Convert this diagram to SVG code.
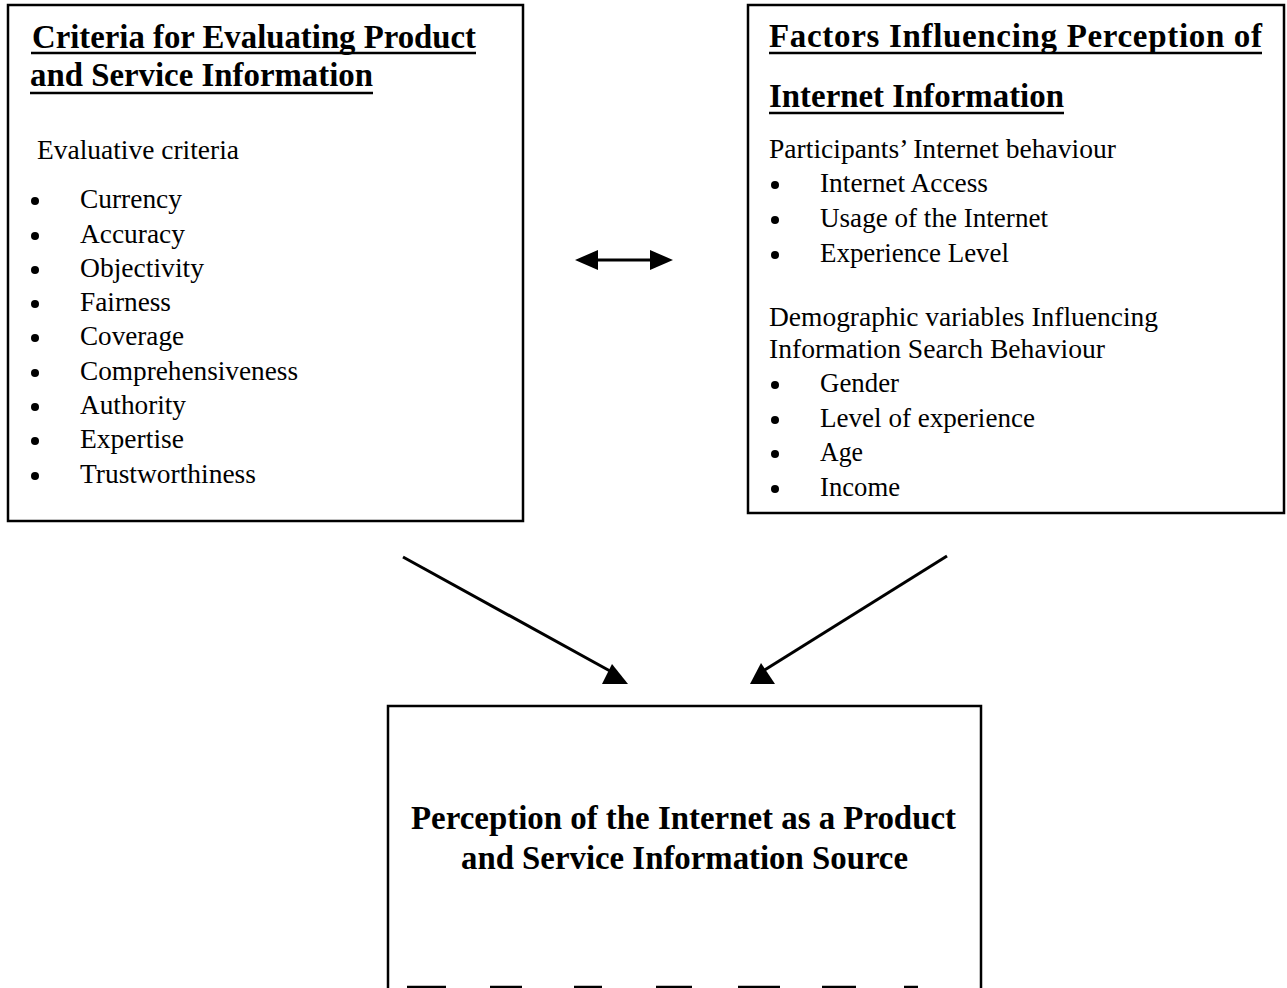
<svg xmlns="http://www.w3.org/2000/svg" width="1287" height="988" viewBox="0 0 1287 988">
<style>
.box{fill:none;stroke:#000;stroke-width:2.5}
.t{font-family:"Liberation Serif","Times New Roman",serif;fill:#000}
.h{font-weight:bold;font-size:33px}
.r{font-size:27px}
.ul{stroke:#000;stroke-width:2.5}
.bul{fill:#000}
.con{stroke:#000;stroke-width:3;fill:none}
.head{fill:#000}
</style>
<rect width="1287" height="988" fill="#fff"/>
<g id="node-criteria">
<rect class="box" x="8" y="5" width="515" height="516"/>
<text class="t h" x="32" y="48" textLength="444" lengthAdjust="spacingAndGlyphs">Criteria for Evaluating Product</text>
<line class="ul" x1="31" y1="53" x2="476" y2="53"/>
<text class="t h" x="30" y="86" textLength="343" lengthAdjust="spacingAndGlyphs">and Service Information</text>
<line class="ul" x1="30" y1="93" x2="373" y2="93"/>
<text class="t r" x="37" y="159" textLength="202" lengthAdjust="spacingAndGlyphs">Evaluative criteria</text>
<g class="bul">
<circle cx="35" cy="201" r="4"/><circle cx="35" cy="236" r="4"/><circle cx="35" cy="270" r="4"/>
<circle cx="35" cy="304" r="4"/><circle cx="35" cy="338" r="4"/><circle cx="35" cy="373" r="4"/>
<circle cx="35" cy="407" r="4"/><circle cx="35" cy="441" r="4"/><circle cx="35" cy="476" r="4"/>
</g>
<text class="t r" x="80" y="208" textLength="102" lengthAdjust="spacingAndGlyphs">Currency</text>
<text class="t r" x="80" y="243" textLength="105" lengthAdjust="spacingAndGlyphs">Accuracy</text>
<text class="t r" x="80" y="277" textLength="124" lengthAdjust="spacingAndGlyphs">Objectivity</text>
<text class="t r" x="80" y="311" textLength="91" lengthAdjust="spacingAndGlyphs">Fairness</text>
<text class="t r" x="80" y="345" textLength="104" lengthAdjust="spacingAndGlyphs">Coverage</text>
<text class="t r" x="80" y="380" textLength="218" lengthAdjust="spacingAndGlyphs">Comprehensiveness</text>
<text class="t r" x="80" y="414" textLength="106" lengthAdjust="spacingAndGlyphs">Authority</text>
<text class="t r" x="80" y="448" textLength="104" lengthAdjust="spacingAndGlyphs">Expertise</text>
<text class="t r" x="80" y="483" textLength="176" lengthAdjust="spacingAndGlyphs">Trustworthiness</text>
</g>
<g id="node-factors">
<rect class="box" x="748" y="5" width="536" height="508"/>
<text class="t h" x="769" y="47" textLength="493" lengthAdjust="spacing">Factors  Influencing  Perception  of</text>
<line class="ul" x1="769" y1="53" x2="1262" y2="53"/>
<text class="t h" x="769" y="107" textLength="295" lengthAdjust="spacingAndGlyphs">Internet Information</text>
<line class="ul" x1="769" y1="113" x2="1064" y2="113"/>
<text class="t r" x="769" y="158" textLength="347" lengthAdjust="spacingAndGlyphs">Participants’ Internet behaviour</text>
<g class="bul">
<circle cx="775" cy="185" r="4"/><circle cx="775" cy="220" r="4"/><circle cx="775" cy="255" r="4"/>
<circle cx="775" cy="385" r="4"/><circle cx="775" cy="420" r="4"/><circle cx="775" cy="454" r="4"/><circle cx="775" cy="489" r="4"/>
</g>
<text class="t r" x="820" y="192" textLength="168" lengthAdjust="spacingAndGlyphs">Internet Access</text>
<text class="t r" x="820" y="227" textLength="228" lengthAdjust="spacingAndGlyphs">Usage of the Internet</text>
<text class="t r" x="820" y="262" textLength="189" lengthAdjust="spacingAndGlyphs">Experience Level</text>
<text class="t r" x="769" y="326" textLength="389" lengthAdjust="spacingAndGlyphs">Demographic variables Influencing</text>
<text class="t r" x="769" y="358" textLength="336" lengthAdjust="spacingAndGlyphs">Information Search Behaviour</text>
<text class="t r" x="820" y="392" textLength="79" lengthAdjust="spacingAndGlyphs">Gender</text>
<text class="t r" x="820" y="427" textLength="215" lengthAdjust="spacingAndGlyphs">Level of experience</text>
<text class="t r" x="820" y="461" textLength="43" lengthAdjust="spacingAndGlyphs">Age</text>
<text class="t r" x="820" y="496" textLength="80" lengthAdjust="spacingAndGlyphs">Income</text>
</g>
<g id="node-perception">
<rect class="box" x="388" y="706" width="593" height="320"/>
<text class="t h" x="411" y="829" textLength="545" lengthAdjust="spacingAndGlyphs">Perception of the Internet as a Product</text>
<text class="t h" x="461" y="869" textLength="447" lengthAdjust="spacingAndGlyphs">and Service Information Source</text>
<path class="ul" d="M407 987H446M490 987H522M574 987H602M656 987H692M738 987H780M822 987H856M904 987H918"/>
</g>
<g id="connectors">
<line class="con" x1="592" y1="260" x2="656" y2="260"/>
<polygon class="head" points="575,260 598,250 598,270"/>
<polygon class="head" points="673,260 650,250 650,270"/>
<line class="con" x1="403" y1="557" x2="610" y2="671"/>
<polygon class="head" points="612,664 602,684 628,684"/>
<line class="con" x1="947" y1="556" x2="763" y2="671"/>
<polygon class="head" points="761,663 750,684 775,684"/>
</g>
</svg>
